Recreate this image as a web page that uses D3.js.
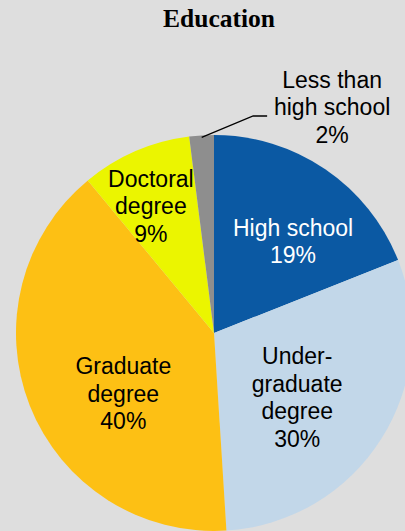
<!DOCTYPE html>
<html>
<head>
<meta charset="utf-8">
<script src="https://cdn.jsdelivr.net/npm/d3@7"></script>
<style>
  html, body { margin: 0; padding: 0; background: #dedede; }
  svg { display: block; }
</style>
</head>
<body>
<svg id="chart" width="405" height="531"></svg>
<script>
// Education breakdown, clockwise from 12 o'clock
const categories = ["High school", "Undergraduate degree", "Graduate degree", "Doctoral degree", "Less than high school"];
const values = [19, 30, 40, 9, 2];
const labelLines = [
  ["High school", "19%"],
  ["Under-", "graduate", "degree", "30%"],
  ["Graduate", "degree", "40%"],
  ["Doctoral", "degree", "9%"],
  ["Less than", "high school", "2%"]
];
const colors = ["#0b59a3", "#c2d7e9", "#fdc014", "#ebf500", "#8e8e8e"];
const labelColors = ["#ffffff", "#000000", "#000000", "#000000", "#000000"];

const width = 405, height = 531;
const cx = 214, cy = 333, radius = 198;
const fontSize = 23, lineHeight = 27.5;

// label anchor: distance from centre and angular nudge (deg) from slice mid-angle
const labelPlacement = [
  { dist: 121, nudge: 6.6 },
  { dist: 105, nudge: 5.2 },
  { dist: 109, nudge: -12.1 },
  { dist: 142, nudge: -3.0 },
  { dist: 255, nudge: 31.2, leader: true }
];

const svg = d3.select("#chart");

svg.append("rect").attr("width", width).attr("height", height).attr("fill", "#dedede");

svg.append("text")
  .attr("x", 219).attr("y", 26.5)
  .attr("text-anchor", "middle")
  .attr("font-family", "'Liberation Serif', 'Times New Roman', serif")
  .attr("font-weight", "bold")
  .attr("font-size", 25.5)
  .attr("fill", "#000")
  .text("Education");

const data = categories.map((c, i) => ({ category: c, value: values[i], index: i }));

const pie = d3.pie().sort(null).value(d => d.value);
const arcs = pie(data);
const arc = d3.arc().innerRadius(0).outerRadius(radius);

const g = svg.append("g").attr("transform", `translate(${cx},${cy})`);

g.selectAll("path.slice")
  .data(arcs)
  .join("path")
  .attr("class", "slice")
  .attr("d", arc)
  .attr("fill", d => colors[d.data.index]);

function polar(r, a) {
  return [r * Math.sin(a), -r * Math.cos(a)];
}

arcs.forEach(d => {
  const i = d.data.index;
  const p = labelPlacement[i];
  const mid = (d.startAngle + d.endAngle) / 2;
  const [lx, ly] = polar(p.dist, mid + p.nudge * Math.PI / 180);
  const lines = labelLines[i];
  const firstBaseline = ly - (lines.length - 1) * lineHeight / 2 + 8.2;

  if (p.leader) {
    const [ax, ay] = polar(radius - 2, mid);
    const path = d3.path();
    path.moveTo(ax, ay);
    path.lineTo(lx - 79, ly + 9);
    path.lineTo(lx - 65, ly + 9);
    g.append("path")
      .attr("d", path.toString())
      .attr("fill", "none")
      .attr("stroke", "#000")
      .attr("stroke-width", 1.3);
  }

  const t = g.append("text")
    .attr("text-anchor", "middle")
    .attr("font-family", "'Liberation Sans', Arial, sans-serif")
    .attr("font-size", fontSize)
    .attr("fill", labelColors[i]);
  lines.forEach((s, k) => {
    t.append("tspan")
      .attr("x", lx)
      .attr("y", firstBaseline + k * lineHeight)
      .text(s);
  });
});
</script>
</body>
</html>
